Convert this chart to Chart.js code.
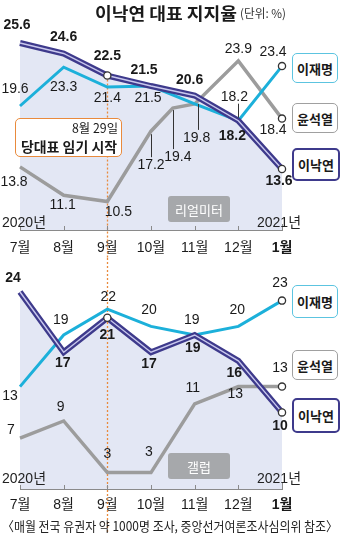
<!DOCTYPE html>
<html><head><meta charset="utf-8">
<script src="https://cdn.jsdelivr.net/npm/chart.js@4.4.1/dist/chart.umd.min.js"></script>
<style>
html,body{margin:0;padding:0;background:#fff;}
body{width:340px;height:534px;position:relative;overflow:hidden;font-family:"Noto Sans CJK KR",sans-serif;color:#1a1a1a;}
canvas{position:absolute;left:0;}
#c1{top:0;}
#c2{top:258px;}
.abs{position:absolute;white-space:nowrap;line-height:1;}
.fit{display:inline-block;transform-origin:0 50%;}
.leg{position:absolute;left:292px;width:44px;height:28px;border-radius:5px;background:#fff;font-weight:bold;font-size:13px;display:flex;align-items:center;justify-content:center;line-height:1;}
.src{position:absolute;left:168px;width:62px;height:26px;border-radius:3px;background:#a6a8ab;color:#fff;font-size:13px;display:flex;align-items:center;justify-content:center;line-height:1;}
.yr{position:absolute;font-family:"Liberation Sans","Noto Sans CJK KR",sans-serif;font-size:14px;line-height:1;color:#222;}
</style></head>
<body>
<canvas id="c1" width="340" height="258"></canvas>
<canvas id="c2" width="340" height="276"></canvas>

<div class="abs" style="left:95px;top:4px;font-weight:bold;font-size:17px;"><span class="fit" data-w="142">이낙연 대표 지지율</span></div>
<div class="abs" style="left:240px;top:7px;font-size:12px;color:#333;"><span class="fit" data-w="46">(단위: %)</span></div>

<div class="abs" style="left:15px;top:118px;width:105px;height:37px;border:1.5px solid #e98a3c;border-radius:5px;background:#fff;"></div>
<div class="abs" style="left:72px;top:122px;font-size:12.5px;"><span class="fit" data-w="46">8월 29일</span></div>
<div class="abs" style="left:21px;top:139px;font-size:14px;font-weight:bold;"><span class="fit" data-w="96">당대표 임기 시작</span></div>

<div class="yr" style="left:2px;top:215px;">2020년</div>
<div class="yr" style="left:257px;top:215px;">2021년</div>
<div class="src" style="top:196px;">리얼미터</div>

<div class="leg" style="top:53px;border:1.5px solid #5cc4e0;">이재명</div>
<div class="leg" style="top:103px;border:1.5px solid #a0a0a0;">윤석열</div>
<div class="leg" style="top:148px;border:2px solid #3e3a8c;height:29px;">이낙연</div>

<div class="yr" style="left:2px;top:471px;">2020년</div>
<div class="yr" style="left:257px;top:471px;">2021년</div>
<div class="src" style="top:453px;">갤럽</div>

<div class="leg" style="top:285px;border:1.5px solid #5cc4e0;height:31px;">이재명</div>
<div class="leg" style="top:350px;border:1.5px solid #a0a0a0;">윤석열</div>
<div class="leg" style="top:398px;border:2px solid #3e3a8c;height:31px;">이낙연</div>

<div class="abs" style="left:2px;top:519px;font-size:13px;color:#222;"><span class="fit" data-w="336">〈매월 전국 유권자 약 1000명 조사, 중앙선거여론조사심의위 참조〉</span></div>

<script>
// ---- data ----
const months = ['7월','8월','9월','10월','11월','12월','1월'];
// 리얼미터
const rmLeeNakyeon  = [25.6, 24.6, 22.5, 21.5, 20.6, 18.2, 13.6];
const rmLeeJaemyung = [19.6, 23.3, 21.4, 21.5, 19.8, 18.2, 23.4];
const rmYoonX       = [0, 1, 2, 3, 3.5, 4, 5, 6];
const rmYoon        = [13.8, 11.1, 10.5, 17.2, 19.4, 19.8, 23.9, 18.4];
// 갤럽
const glLeeNakyeon  = [24, 17, 21, 17, 19, 16, 10];
const glLeeJaemyung = [13, 19, 22, 20, 19, 20, 23];
const glYoon        = [7, 9, 3, 3, 11, 13, 13];

// ---- styles ----
const PURPLE = '#3e3a8c', PURPLE_IN = '#c9c8ee', CYAN = '#1cb0da', GRAY = '#9c9c9c', FILL = '#e3e7f4', ORANGE = '#e98a3c';
const NUMFONT = '"Liberation Sans", "DejaVu Sans", sans-serif';

const toXY = arr => arr.map((v, i) => ({x: i, y: v}));
const toXY2 = (xs, ys) => ys.map((v, i) => ({x: xs[i], y: v}));

const markerAt = idxs => (ctx => idxs.includes(ctx.dataIndex) ? 3.6 : 0);

const labelPlugin = {
  id: 'vlabels',
  afterDatasetsDraw(chart) {
    const ctx = chart.ctx;
    const dec = chart.options.plugins.vlabels.decimals;
    chart.data.datasets.forEach((ds, di) => {
      if (!ds.labelOffsets) return;
      const meta = chart.getDatasetMeta(di);
      ctx.save();
      ctx.font = (ds.labelBold ? 'bold ' : '') + '14px ' + NUMFONT;
      ctx.fillStyle = '#1a1a1a';
      ctx.textAlign = 'center';
      ctx.textBaseline = 'middle';
      ds.labelOffsets.forEach((o, i) => {
        if (!o) return;
        const pt = meta.data[i];
        const val = ds.data[i].y;
        ctx.fillText(val.toFixed(dec), pt.x + o[0], pt.y + o[1]);
        if (o.length > 2) {
          const lx = Math.round(pt.x + (o[4] || 0)) + 0.5;
          ctx.strokeStyle = '#333';
          ctx.lineWidth = 1;
          ctx.beginPath();
          ctx.moveTo(lx, pt.y + o[2]);
          ctx.lineTo(lx, pt.y + o[3]);
          ctx.stroke();
        }
      });
      ctx.restore();
    });
  }
};

const axisPlugin = {
  id: 'axisdeco',
  beforeDatasetsDraw(chart) {
    const ctx = chart.ctx, xs = chart.scales.x;
    const opt = chart.options.plugins.axisdeco;
    // orange dotted line at 9월 (start of term)
    const x = Math.round(xs.getPixelForValue(2)) + 0.5;
    let y0 = 0;
    if (opt.fromPoint) {
      y0 = chart.getDatasetMeta(0).data[2].y;
    }
    ctx.save();
    ctx.strokeStyle = ORANGE;
    ctx.lineWidth = 1.3;
    ctx.setLineDash([2, 2]);
    ctx.beginPath();
    ctx.moveTo(x, y0);
    ctx.lineTo(x, chart.height);
    ctx.stroke();
    ctx.restore();
  },
  afterDraw(chart) {
    const ctx = chart.ctx, xs = chart.scales.x, ca = chart.chartArea;
    ctx.save();
    ctx.strokeStyle = '#8a8a8a';
    ctx.lineWidth = 1;
    xs.ticks.forEach((t, i) => {
      const px = Math.round(xs.getPixelForValue(t.value)) + 0.5;
      ctx.beginPath();
      ctx.moveTo(px, ca.bottom);
      ctx.lineTo(px, ca.bottom - (i === xs.ticks.length - 1 ? 6 : 4));
      ctx.stroke();
    });
    ctx.restore();
  }
};

function makeChart(id, cfg) {
  const xTickFont = ctx => ({family: '"Liberation Sans", "Noto Sans CJK KR", sans-serif', size: 14, weight: ctx.index === 6 ? 'bold' : 'normal'});
  return new Chart(document.getElementById(id), {
    type: 'line',
    data: {datasets: cfg.datasets},
    options: {
      responsive: false, animation: false, devicePixelRatio: 1,
      layout: {padding: {left: 20, right: 58, top: cfg.top, bottom: 0}},
      plugins: {
        legend: {display: false}, tooltip: {enabled: false}, title: {display: false},
        filler: {drawTime: 'beforeDatasetsDraw'},
        vlabels: {decimals: cfg.decimals},
        axisdeco: {fromPoint: cfg.fromPoint}
      },
      elements: {line: {tension: 0}},
      scales: {
        x: {
          type: 'linear', min: 0, max: 6, offset: false,
          grid: {display: false},
          border: {display: true, color: '#8a8a8a', width: 1},
          ticks: {stepSize: 1, autoSkip: false, maxRotation: 0, padding: cfg.tickPad, color: '#1a1a1a',
                  callback: v => months[v], font: xTickFont},
          afterFit: s => { s.height = cfg.axisH; }
        },
        y: {display: false, min: cfg.ymin, max: cfg.ymax}
      }
    },
    plugins: [axisPlugin, labelPlugin]
  });
}

const commonPt = {pointBackgroundColor: '#fff', pointBorderColor: '#333', pointBorderWidth: 1.3, pointHoverRadius: 0, clip: false};

// top: 리얼미터
makeChart('c1', {
  top: 22, axisH: 28, tickPad: 2, ymin: 7.79, ymax: 27.6, decimals: 1, fromPoint: true,
  datasets: [
    Object.assign({data: toXY(rmLeeNakyeon), borderColor: PURPLE_IN, borderWidth: 1.4, order: 0, fill: false,
      pointRadius: markerAt([2, 6]),
      labelBold: true,
      labelOffsets: [[-3,-18],[0,-16],[0,-19],[-7,-16],[-5,-15],[-6,15],[-3,12]]}, commonPt),
    {data: toXY(rmLeeNakyeon), borderColor: PURPLE, borderWidth: 6, order: 1, fill: 'start', backgroundColor: FILL, pointRadius: 0, clip: false},
    Object.assign({data: toXY(rmLeeJaemyung), borderColor: CYAN, borderWidth: 3, order: 2, fill: false,
      pointRadius: markerAt([6]),
      labelOffsets: [[-5,-17],[0,20],[0,11],[-3,12],null,[-4,-24,-17,-3],[-9,-14]]}, commonPt),
    Object.assign({data: toXY2(rmYoonX, rmYoon), borderColor: GRAY, borderWidth: 3.5, order: 3, fill: false,
      pointRadius: markerAt([7]),
      labelOffsets: [[-6,15],[-1,10],[11,11],[0,34,3,26],[5,49,2,41],[2,34,0,26,3],[0,-12],[-9,12]]}, commonPt)
  ]
});

// bottom: 갤럽
makeChart('c2', {
  top: 17, axisH: 45, tickPad: 0, ymin: 1.09, ymax: 25.98, decimals: 0, fromPoint: false,
  datasets: [
    Object.assign({data: toXY(glLeeNakyeon), borderColor: PURPLE_IN, borderWidth: 1.4, order: 0, fill: false,
      pointRadius: markerAt([2, 6]),
      labelBold: true,
      labelOffsets: [[-7,-14],[-1,11],[0,17],[-2,12],[-2,13],[-4,12],[-2,14]]}, commonPt),
    {data: toXY(glLeeNakyeon), borderColor: PURPLE, borderWidth: 6, order: 1, fill: 'start', backgroundColor: FILL, pointRadius: 0, clip: false},
    Object.assign({data: toXY(glLeeJaemyung), borderColor: CYAN, borderWidth: 3, order: 2, fill: false,
      pointRadius: markerAt([6]),
      labelOffsets: [[-10,10],[-3,-15],[1,-12],[-2,-16],[-3,-15],[-1,-16],[-2,-17]]}, commonPt),
    Object.assign({data: toXY(glYoon), borderColor: GRAY, borderWidth: 3.5, order: 3, fill: false,
      pointRadius: markerAt([6]),
      labelOffsets: [[-9,-8],[-3,-14],[0,-18],[-2,-20],[-2,-16],[-3,8],[-2,-18]]}, commonPt)
  ]
});

// squeeze condensed texts to reference widths
document.querySelectorAll('.fit').forEach(el => {
  const w = el.getBoundingClientRect().width;
  const target = parseFloat(el.dataset.w);
  if (w > 0) el.style.transform = 'scaleX(' + (target / w) + ')';
});
</script>
</body></html>
